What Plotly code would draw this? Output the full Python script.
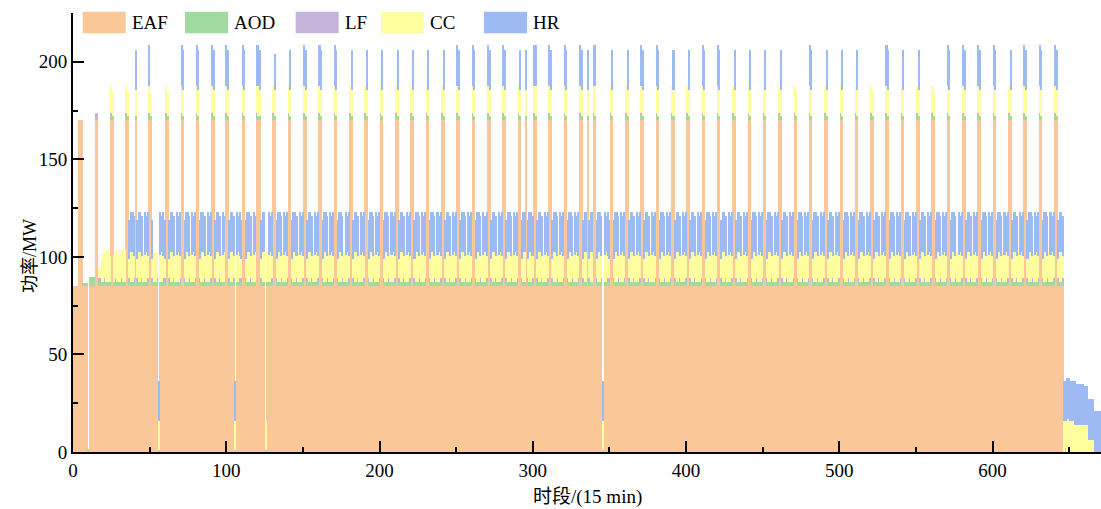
import plotly.graph_objects as go

# ---------------- data ----------------
n_slots = 672                       # 7 days x 96 quarter-hours
eaf_level = 85                      # one furnace running
eaf_peak = 170                      # two furnaces running
eaf_last_slot = 646
eaf_zero_slots = [10, 56, 106, 126, 346]

# spikes where EAF reaches 170: start slot and kind
spike_start = [4, 15, 25, 35, 41, 50, 51, 61, 71, 81, 91, 100,
               111, 120, 131, 141, 151, 161, 171, 181, 191, 201, 211, 221, 231,
               241, 251, 261, 271, 281, 291, 296, 301, 311, 321, 331, 336, 340,
               351, 361, 371, 381, 391, 401, 411, 421, 431, 441, 451, 461, 471,
               481, 491, 501, 511, 521, 531, 541, 551, 561, 571, 581, 591, 601,
               611, 621, 631, 641]
spike_kind = ['E', 'L', 'Y', 'Y', 's', 'B1', 'Y1', 'Y', 'B', 'B', 'B', 'B',
              'B', 'B3', 'bl', 'b', 'B', 'B', 'B', 'b', 'b', 'b', 'b', 'b', 'b',
              'b', 'B', 'B', 'B', 'B', 'b', 's', 'Bf', 'B', 'B', 'B', 's', 'Bf',
              'b', 'b', 'B', 'B', 'b', 'b', 'B', 'B', 'b', 'b', 'b', 'b', 'Y',
              'B', 'b', 'b', 'b', 'Y', 'B', 'b', 'b', 'Y', 'B', 'B', 'B', 'B',
              'b', 'B', 'B', 'B']
# per spike slot: (AOD, LF, CC top, HR top)
spike_profiles = {
    'E':  [(0, 0, None, None)] * 3,
    'L':  [(0, 3.5, None, None)] * 2,
    'Y':  [(2, 2, 187.6, None), (2, 0, 184.5, None)],
    'Y1': [(2, 0, 184.0, None)],
    'B':  [(2, 2, 187.6, 208.6), (2, 0, 185.6, 206.2)],
    'B1': [(2, 2, 187.6, 208.6)],
    'B3': [(2, 2, 187.6, 208.6), (2, 0, 187.6, 208.6), (2, 0, 185.6, 206.2)],
    'Bf': [(2, 2, 187.6, 208.6), (2, 0, 187.6, 208.6)],
    'b':  [(2, 2, 187.6, None), (2, 0, 185.6, 206.2)],
    'bl': [(2, 2, 187.6, None), (2, 0, 185.6, 204.0)],
    's':  [(2, 0, 185.6, 206.2)],
}

# base-load band after each spike (AOD, LF, CC top, HR top)
band_aod = [2, 2, 2, 2, 2, 2, 2, 2]
band_lf = [2, 0, 0, 2, 0, 0, 0, 2]
band_cc_top = [98.8, 102.5, 102.5, 100.5, 102.5, 101.0, 102.5, 100.5]
band_hr_top = [119.0, 123.2, 123.2, 121.0, None, 123.2, 121.0, 123.2]
hr_start_slot = 37
hr_gap_slots = [53, 54, 55]

# first hours (slots 0..36)
early_aod = [0, 0, 0, 0, 0, 0, 0, 1.5, 1.5, 1.5, 1.5, 4.5, 4.5, 4.5, 4.5, 0, 0,
             2, 2, 2, 2, 2, 2, 2, 2, 0, 0, 2, 2, 2, 2, 2, 2, 2, 2, 0, 0]
early_lf = [0, 0, 0, 0, 0, 0, 0, 0, 0, 0, 0, 0, 0, 0, 0, 0, 0,
            2, 2, 0, 0, 2, 0, 0, 0, 0, 0, 0, 2, 0, 0, 0, 2, 0, 0, 0, 0]
early_cc_top = [None] * 17 + [94, 95.5, 99, 101.5, 101.5, 103.4, 103.4, 100.5,
                              None, None, 101, 103.4, 103.4, 100.5, 103.4,
                              103.4, 101, 103.4, None, None]

# slots where EAF is off: (AOD, CC top, HR top)
zero_profiles = {10: (1.5, None, None), 56: (1, 16, 36.3), 106: (1, 16, 36.3),
                 126: (1, 16, None), 346: (1, 16, 36.3)}

# tail after the last EAF heat (slots 647..671)
tail_aod = [0, 2, 0, 0, 0, 0, 0, 0, 0, 0, 0, 0, 0, 0, 0, 0, 0, 0, 0, 0, 0, 0, 0, 0, 0]
tail_cc_top = [16, 16, 17, 17, 16, 16, 16, 14, 14, 14, 14, 14, 14, 14, 14, 14,
               6, 6, 6, 6, 0, 0, 0, 0, 0]
tail_hr_top = [36.3, 36.3, 38, 38, 36.3, 36.3, 36.3, 36.3, 35, 35, 35, 35, 35,
               34, 34, 34, 27, 27, 27, 27, 21, 21, 21, 21, 21]

series_names = ['EAF', 'AOD', 'LF', 'CC', 'HR']
series_colors = ['#FAC898', '#A2DBA1', '#C5B4D9', '#FFFFA0', '#9DBAF2']

# ---------------- assemble slot arrays ----------------
assert len(spike_start) == len(spike_kind)
EAF = [0.0] * n_slots
AOD = [0.0] * n_slots
LF = [0.0] * n_slots
CC = [0.0] * n_slots
HR = [0.0] * n_slots


def put(t, eaf, aod, lf, cc_top, hr_top):
    EAF[t], AOD[t], LF[t] = eaf, aod, lf
    base = eaf + aod + lf
    CC[t] = max(cc_top - base, 0) if cc_top is not None else 0
    top = base + CC[t]
    HR[t] = max(hr_top - top, 0) if hr_top is not None else 0


spike_slots = {}
for s, k in zip(spike_start, spike_kind):
    for i, prof in enumerate(spike_profiles[k]):
        spike_slots[s + i] = prof

last_end = 0
for t in range(n_slots):
    if t in spike_slots:
        a, l, c, h = spike_slots[t]
        put(t, eaf_peak, a, l, c, h)
        last_end = t + 1
        continue
    if t in zero_profiles:
        a, c, h = zero_profiles[t]
        put(t, 0, a, 0, c, h)
        continue
    if t > eaf_last_slot:
        i = t - eaf_last_slot - 1
        put(t, 0, tail_aod[i], 0, tail_cc_top[i], tail_hr_top[i])
        continue
    if t < len(early_aod):
        put(t, eaf_level, early_aod[t], early_lf[t], early_cc_top[t], None)
        continue
    e = (t - last_end) % len(band_aod)
    h = band_hr_top[e] if (t >= hr_start_slot and t not in hr_gap_slots) else None
    put(t, eaf_level, band_aod[e], band_lf[e], band_cc_top[e], h)

slots = list(range(n_slots))
values = [EAF, AOD, LF, CC, HR]

# ---------------- figure ----------------
font_family = "Liberation Serif, 'Noto Sans CJK SC', serif"
fig = go.Figure()
for name, col, vals in zip(series_names, series_colors, values):
    fig.add_trace(go.Bar(x=slots, y=vals, name=name, width=1.0,
                         marker=dict(color=col, line=dict(width=0)),
                         showlegend=False))

L, R, T, B = 73, 0, 13, 57
W, H = 1101, 509
pw, ph = W - L - R, H - T - B


def px_x(px):
    return (px - L) / pw


def px_y(py):
    return (H - B - py) / ph


# custom legend with wide swatches
legend_swatch_x = [82.7, 185.0, 295.7, 381.0, 484.0]
shapes, annots = [], []
for name, col, x0 in zip(series_names, series_colors, legend_swatch_x):
    shapes.append(dict(type='rect', xref='paper', yref='paper',
                       x0=px_x(x0), x1=px_x(x0 + 43), y0=px_y(33.3), y1=px_y(11.7),
                       fillcolor=col, line=dict(width=0), layer='above'))
    annots.append(dict(xref='paper', yref='paper', x=px_x(x0 + 47), y=px_y(22.5),
                       text=name, showarrow=False, xanchor='left', yanchor='middle',
                       font=dict(size=19, color='black', family=font_family)))

annots.append(dict(xref='paper', yref='paper', x=px_x(587), y=px_y(497),
                   text='时段/(15 min)', showarrow=False, xanchor='center',
                   yanchor='middle', font=dict(size=19, color='black', family=font_family)))
annots.append(dict(xref='paper', yref='paper', x=px_x(30), y=px_y(256),
                   text='功率/MW', showarrow=False, textangle=-90, xanchor='center',
                   yanchor='middle', font=dict(size=18, color='black', family=font_family)))

axis_common = dict(showline=True, linecolor='black', linewidth=2, ticks='inside',
                   tickwidth=2, ticklen=11, tickcolor='black', showgrid=False,
                   zeroline=False, mirror=False,
                   tickfont=dict(size=19, color='black', family=font_family))

fig.update_layout(
    width=W, height=H, margin=dict(l=L, r=R, t=T, b=B, pad=0),
    paper_bgcolor='white', plot_bgcolor='white',
    barmode='stack', bargap=0, bargroupgap=0,
    shapes=shapes, annotations=annots,
    xaxis=dict(range=[0, 670.8], tick0=0, dtick=100,
               minor=dict(dtick=50, ticks='inside', ticklen=5, tickwidth=2,
                          tickcolor='black', showgrid=False),
               **axis_common),
    yaxis=dict(range=[0, 225], tick0=0, dtick=50,
               minor=dict(dtick=25, ticks='inside', ticklen=5, tickwidth=2,
                          tickcolor='black', showgrid=False),
               **axis_common),
)

fig.write_html("out.html")
